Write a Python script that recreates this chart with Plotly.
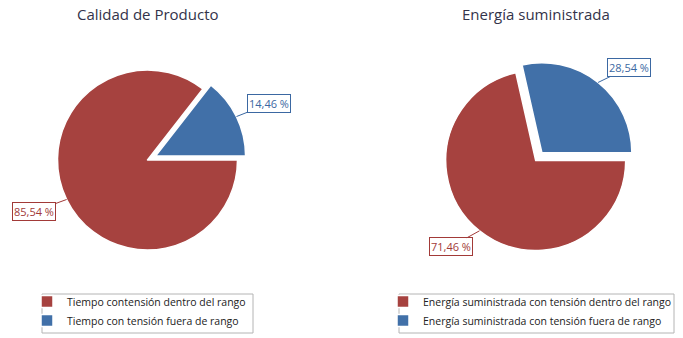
import math
import plotly.graph_objects as go

# ---- data -------------------------------------------------------------
titles = ["Calidad de Producto", "Energía suministrada"]
left_labels = ["Tiempo contensión dentro del rango", "Tiempo con tensión fuera de rango"]
right_labels = ["Energía suministrada con tensión dentro del rango",
                "Energía suministrada con tensión fuera de rango"]
left_values = [85.54, 14.46]
right_values = [71.46, 28.54]

# ---- styling / layout -------------------------------------------------
W, H = 683, 338
RED, BLUE = "#a6423f", "#4170a8"
RED_TXT, BLUE_TXT = "#a23a38", "#3b68a2"
FONT = "Open Sans"
R = 90                      # pie radius in px
pies = [
    dict(cx=147.5, cy=160.0, pull=0.10, labels=left_labels, values=left_values,
         legend="legend", offsets=[(-33, 12), (33, -13)], title=titles[0]),
    dict(cx=535.7, cy=160.5, pull=0.11, labels=right_labels, values=right_values,
         legend="legend2", offsets=[(-29, 16), (31, -15)], title=titles[1]),
]
legend_pos = [(27, 287), (383, 287)]
legend_frames = [(42, 294, 253, 333), (399, 294, 674, 333)]


def px(x):
    return x / W


def py(y):
    return 1 - y / H


def fmt(v):
    return f"{v:.2f}".replace(".", ",") + " %"


fig = go.Figure()
annotations = []

for p in pies:
    half = R * (1 + p["pull"])
    fig.add_trace(go.Pie(
        labels=p["labels"], values=p["values"],
        sort=False, direction="clockwise", rotation=90,
        pull=[0, p["pull"]],
        marker=dict(colors=[RED, BLUE], line=dict(color="white", width=1.5)),
        textinfo="none", hoverinfo="label+value",
        domain=dict(x=[px(p["cx"] - half), px(p["cx"] + half)],
                    y=[py(p["cy"] + half), py(p["cy"] - half)]),
        legend=p["legend"], showlegend=True,
    ))

    # slice mid angles (counter-clockwise from east, degrees)
    total = sum(p["values"])
    a_blue = 360 * p["values"][1] / total
    a_red = 360 * p["values"][0] / total
    mids = [a_blue + a_red / 2, a_blue / 2]
    pulls = [0, p["pull"]]
    cols = [RED_TXT, BLUE_TXT]
    for v, m, pl, col, (ox, oy) in zip(p["values"], mids, pulls, cols, p["offsets"]):
        t = math.radians(m)
        ccx = p["cx"] + pl * R * math.cos(t)
        ccy = p["cy"] - pl * R * math.sin(t)
        ex = ccx + R * math.cos(t)
        ey = ccy - R * math.sin(t)
        annotations.append(dict(
            x=px(ex), y=py(ey), xref="paper", yref="paper",
            text=fmt(v), showarrow=True, arrowhead=0, arrowwidth=1,
            arrowcolor=col, ax=ox, ay=oy,
            font=dict(family=FONT, size=11, color=col),
            bgcolor="white", bordercolor=col, borderwidth=1, borderpad=1,
        ))

    annotations.append(dict(
        x=px(p["cx"]), y=py(14), xref="paper", yref="paper",
        text=p["title"], showarrow=False, xanchor="center", yanchor="middle",
        font=dict(family=FONT, size=15, color="#33334a"),
    ))

# frames around the two legends
shapes = [
    dict(type="rect", xref="paper", yref="paper",
         x0=px(x0), x1=px(x1), y0=py(y1), y1=py(y0),
         line=dict(color="#b4b4b4", width=1), fillcolor="white", layer="below")
    for (x0, y0, x1, y1) in legend_frames
]

legend_style = dict(
    bgcolor="rgba(0,0,0,0)", borderwidth=0,
    font=dict(family=FONT, size=10.5, color="#222222"),
    xanchor="left", yanchor="top", tracegroupgap=0,
)

fig.update_layout(
    width=W, height=H,
    margin=dict(l=0, r=0, t=0, b=0, autoexpand=False),
    paper_bgcolor="white", plot_bgcolor="white",
    annotations=annotations,
    shapes=shapes,
    legend=dict(x=px(legend_pos[0][0]), y=py(legend_pos[0][1]), **legend_style),
    legend2=dict(x=px(legend_pos[1][0]), y=py(legend_pos[1][1]), **legend_style),
)

fig.write_html("out.html")
